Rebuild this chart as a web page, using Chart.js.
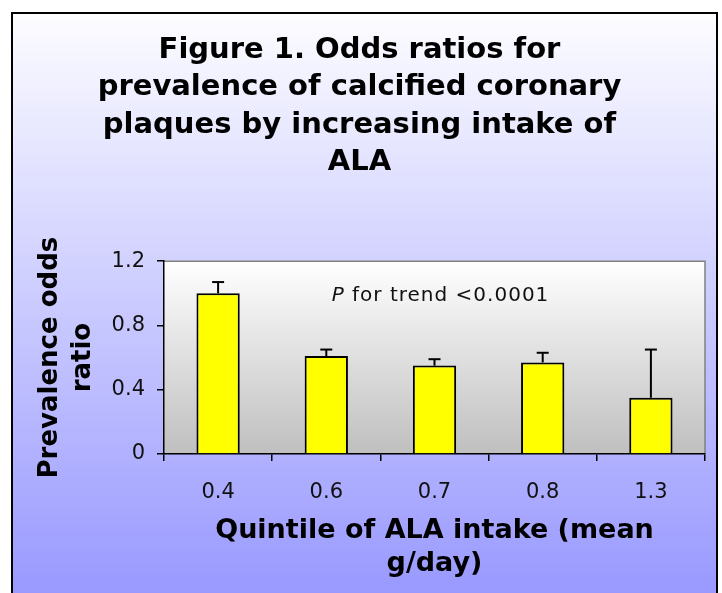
<!DOCTYPE html>
<html><head><meta charset="utf-8">
<script src="https://cdn.jsdelivr.net/npm/chart.js@4"></script>
<style>html,body{margin:0;padding:0;background:#fff}#c{display:block}</style>
</head><body>
<canvas id="c" width="722" height="593"></canvas>
<script>
const categories = ['0.4', '0.6', '0.7', '0.8', '1.3'];
const oddsRatios = [1.0, 0.61, 0.55, 0.57, 0.35];
const upperErrors = [1.07, 0.65, 0.59, 0.63, 0.65];
const yTicks = [0, 0.4, 0.8, 1.2];
const titleLines = ['Figure 1. Odds ratios for', 'prevalence of calcified coronary', 'plaques by increasing intake of', 'ALA'];
const xTitleLines = ['Quintile of ALA intake (mean', 'g/day)'];
const yTitleLines = ['Prevalence odds', 'ratio'];
const annotationItalic = 'P';
const annotationRest = ' for trend <0.0001';

const FONT = "'DejaVu Sans', Verdana, sans-serif";

const backgroundPlugin = {
  id: 'bg',
  beforeDraw(chart) {
    const ctx = chart.ctx, W = chart.width, H = chart.height;
    ctx.save();
    ctx.fillStyle = '#ffffff';
    ctx.fillRect(0, 0, W, H);
    const g = ctx.createLinearGradient(0, 12, 0, H);
    g.addColorStop(0, '#fdfdff');
    g.addColorStop(1, '#9999ff');
    ctx.fillStyle = g;
    ctx.fillRect(12, 13, 705, H);
    ctx.strokeStyle = '#000';
    ctx.lineWidth = 2;
    ctx.beginPath();
    ctx.moveTo(12, H + 5); ctx.lineTo(12, 13); ctx.lineTo(717, 13); ctx.lineTo(717, H + 5);
    ctx.stroke();
    const a = chart.chartArea;
    const pg = ctx.createLinearGradient(0, a.top, 0, a.bottom);
    pg.addColorStop(0, '#ffffff');
    pg.addColorStop(1, '#bfbfbf');
    ctx.fillStyle = pg;
    ctx.fillRect(a.left, a.top, a.right - a.left, a.bottom - a.top);
    ctx.strokeStyle = '#808080';
    ctx.lineWidth = 1.5;
    ctx.beginPath();
    ctx.moveTo(a.left, a.top); ctx.lineTo(a.right, a.top); ctx.lineTo(a.right, a.bottom);
    ctx.stroke();
    ctx.restore();
  }
};

const errorBarPlugin = {
  id: 'errbars',
  afterDatasetsDraw(chart) {
    const ctx = chart.ctx;
    const meta = chart.getDatasetMeta(0);
    const ys = chart.scales.y;
    ctx.save();
    ctx.strokeStyle = '#000';
    meta.data.forEach((bar, i) => {
      const x = bar.x;
      const yTop = ys.getPixelForValue(upperErrors[i]);
      ctx.lineWidth = 2;
      ctx.beginPath();
      ctx.moveTo(x, bar.y); ctx.lineTo(x, yTop);
      ctx.stroke();
      ctx.lineWidth = 2;
      ctx.beginPath();
      ctx.moveTo(x - 6, yTop); ctx.lineTo(x + 6, yTop);
      ctx.stroke();
    });
    ctx.restore();
  }
};

const annotationPlugin = {
  id: 'annot',
  afterDraw(chart) {
    const ctx = chart.ctx;
    const a = chart.chartArea;
    ctx.save();
    ctx.fillStyle = '#111';
    ctx.textBaseline = 'middle';
    try { ctx.letterSpacing = '1px'; } catch (e) {}
    ctx.font = 'italic 20px ' + FONT;
    const w1 = ctx.measureText(annotationItalic).width;
    ctx.font = '20px ' + FONT;
    const w2 = ctx.measureText(annotationRest).width;
    const cx = (a.left + a.right) / 2 + 6;
    const y = chart.scales.y.getPixelForValue(0.985);
    let x = cx - (w1 + w2) / 2;
    ctx.textAlign = 'left';
    ctx.font = 'italic 20px ' + FONT;
    ctx.fillText(annotationItalic, x, y);
    ctx.font = '20px ' + FONT;
    ctx.fillText(annotationRest, x + w1, y);
    ctx.restore();
  }
};

new Chart(document.getElementById('c'), {
  type: 'bar',
  data: {
    labels: categories,
    datasets: [{
      data: oddsRatios,
      backgroundColor: '#ffff00',
      borderColor: '#000000',
      borderWidth: 2,
      barPercentage: 0.4,
      categoryPercentage: 1.0
    }]
  },
  options: {
    responsive: false,
    devicePixelRatio: 1,
    animation: false,
    layout: { padding: { left: 14, right: 17, top: 0, bottom: 4 } },
    plugins: {
      legend: { display: false },
      tooltip: { enabled: false },
      title: {
        display: true,
        text: titleLines,
        color: '#000',
        font: { family: FONT, size: 29, weight: 'bold', lineHeight: 1.286 },
        padding: { top: 32, bottom: 80 }
      }
    },
    scales: {
      x: {
        afterFit(s) { s.height = 135; },
        grid: { display: true, drawOnChartArea: false, drawTicks: true, tickLength: 7, color: '#000', lineWidth: 1.5, offset: true },
        border: { display: true, color: '#000', width: 1.5 },
        ticks: { color: '#111', font: { family: FONT, size: 21 }, padding: 19 },
        title: {
          display: true, text: xTitleLines, color: '#000',
          font: { family: FONT, size: 27, weight: 'bold', lineHeight: 1.22 },
          padding: { top: 0, bottom: 9 }
        }
      },
      y: {
        min: 0, max: 1.2,
        afterBuildTicks(s) { s.ticks = yTicks.map(v => ({ value: v })); },
        afterFit(s) { s.width = 150; },
        grid: { display: true, drawOnChartArea: false, drawTicks: true, tickLength: 7, color: '#000', lineWidth: 1.5 },
        border: { display: true, color: '#000', width: 1.5 },
        ticks: { color: '#111', font: { family: FONT, size: 21 }, padding: 12 },
        title: {
          display: true, text: yTitleLines, color: '#000',
          font: { family: FONT, size: 26, weight: 'bold', lineHeight: 1.27 },
          padding: { top: 20, bottom: 0 }
        }
      }
    }
  },
  plugins: [backgroundPlugin, errorBarPlugin, annotationPlugin]
});
</script>
</body></html>
